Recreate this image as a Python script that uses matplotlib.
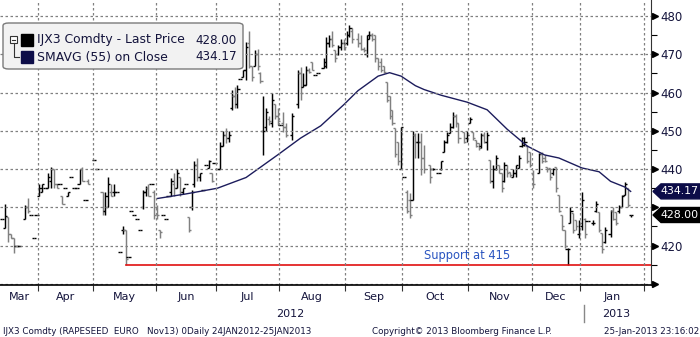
import numpy as np
import pandas as pd
import matplotlib
matplotlib.use('Agg')
from matplotlib import pyplot as plt
from matplotlib import transforms
from matplotlib.patches import FancyBboxPatch, Rectangle, Polygon
from matplotlib.lines import Line2D

# daily bars (open, high, low, close), one per trading session, None = no trade
bars_mar = [(427, 427, 427, 427), (424.6, 431, 424.5, 427.7), (427.5, 427.5, 421, 423), (423, 423, 422, 422),
            (422, 422, 418, 420), (420, 420, 420, 420), (420, 420, 420, 420), None,
            (427, 430.5, 427, 430), (430, 432.5, 428.5, 429), (428, 428, 428, 428), (422, 422, 422, 422),
            (428, 428, 428, 428)]
bars_apr = [(433, 436, 433, 435), (434, 436, 434, 436), (435, 435, 435, 435), (435, 439, 435, 438),
            (437, 440.5, 435, 440), (440, 440, 435, 436), (436, 436, 435, 435), (436, 436, 436, 436),
            (433, 433, 431, 431), (435, 435, 435, 435), (433, 434, 433, 434), (438, 438, 438, 438),
            (435, 435, 435, 435), (435, 435, 435, 435), (436, 440, 436, 440), (440, 440.5, 437, 437),
            (432, 432, 432, 432), (437, 437.5, 436, 436), None]
bars_may = [(442.4, 442.4, 442.4, 442.4), (440, 440, 440, 440), None, (434, 434, 428, 429),
            (429, 434, 428, 433), (430, 438, 430, 436), (434, 436, 433, 433), (434, 436, 433, 434),
            (434, 434, 434, 434), (418.4, 418.4, 418.4, 418.4), (424, 425, 423, 424), (424, 424, 415, 416.5),
            (417, 417, 417, 417), (429, 429, 429, 429), (428, 428, 428, 428), (427, 427, 427, 427),
            (424, 424, 424, 424), (430, 434.6, 429.5, 434), (434, 435.5, 433, 435), (435, 436, 433, 433),
            (436, 436, 436, 436), (434, 434.6, 427, 428)]
bars_jun = [(430, 430.6, 427, 428), (424, 424, 422, 423.6), (428, 428, 428, 428), (427, 427, 427, 427),
            (433, 433, 433, 433), (434, 437.7, 433, 437), (436, 439, 433, 435), (435, 440, 435, 439),
            (438, 438, 433, 434), (434, 435, 433.5, 435), (436, 436, 436, 436), (427.5, 427.5, 423.6, 424),
            (430, 434.6, 429.4, 434), (436, 442, 435.4, 441), (441, 443, 437, 438), (438, 439, 437, 439),
            (434.6, 434.6, 434.6, 434.6), (441, 441, 441, 441), (440.3, 442.4, 440.3, 442),
            (439, 439, 436.5, 437), (441.6, 441.6, 441.6, 441.6)]
bars_jul = [(440, 440, 440, 440), (440, 447, 440, 446), (446, 450, 446, 449), (449, 450.8, 446.8, 448),
            (448, 450, 447, 449), (456, 460.7, 455.5, 459), (459, 461.5, 456, 457), (457, 462, 456, 461),
            (463.5, 463.5, 463.5, 463.5), (464, 466, 464, 466), (466, 473.2, 463.3, 472), (473, 476, 466.4, 467),
            (467, 467, 463, 464), (467, 471, 467, 470), (470, 471.5, 466, 467), (465, 465.5, 462.5, 463),
            (450, 459, 443.7, 450), (451, 456, 450, 455), (453, 454, 451.5, 452.5), (452, 460, 451, 458),
            (457, 457, 453, 454), (454, 456, 451.5, 452.5)]
bars_aug = [(451.5, 451.5, 451.5, 451.5), (452, 455, 449.7, 451), (451, 452, 448.5, 449), None,
            (449, 454.7, 447.6, 454), None, (457, 466, 456, 465), (465, 466.7, 458, 460),
            (461.5, 465, 461.5, 462), (462, 467, 462, 466), (466, 466.5, 465, 465.5), (468, 468, 466, 466),
            (464.6, 464.6, 464.6, 464.6), (465, 465, 465, 465), None, (466.4, 469, 466.4, 468),
            (467, 474.5, 466.4, 473), (473, 475, 472, 474), (474, 476, 472, 472.5), (471, 471, 468, 469),
            (470, 472.4, 469.8, 472), (472, 474, 471, 473), (473, 474, 471, 472)]
bars_sep = [(473, 476, 472.4, 475), (475, 477.7, 474.5, 477), (476, 477, 473, 474), None,
            (474, 475.5, 472, 473), (473, 475, 471, 471.5), (471.5, 472, 470.6, 471), (470, 475, 469.3, 474),
            (475, 476, 474, 475), (475, 475.5, 473.5, 474), (475, 475, 468, 469), (469, 469, 466, 467),
            (468, 469, 465.4, 466), (467, 467, 465, 465.5), (462.8, 462.8, 457.5, 458), (459, 459, 453, 454),
            (455.5, 455.5, 451.5, 452), (450.8, 450.8, 443.2, 444), (447, 447, 441, 442), (440, 451, 440, 451)]
bars_oct = [(438, 438, 438, 438), (434, 434.6, 428.6, 429), (432, 433.8, 427.3, 428), (432, 450, 432, 449),
            (449, 449.5, 443, 447), (447, 449.5, 443, 447), (447, 449.5, 438.5, 443), (443, 446.3, 439, 440),
            None, (441, 441, 436.4, 438), (440, 440.3, 439.8, 440), None,
            (439, 439, 439, 439), (440, 442, 439.8, 442), (444.5, 447.6, 444.5, 447), (447, 449.7, 446.8, 449),
            (449.5, 452, 449.5, 451), (451, 455, 450.8, 454), (454, 454.5, 451, 452), (452, 452, 446.8, 448),
            None, (449.7, 449.7, 446.8, 447), (448, 450, 447, 449)]
bars_nov = [(452, 453.5, 452, 453), (449.7, 449.7, 447.6, 448), (447.6, 447.6, 445.8, 446),
            (446.8, 446.8, 445, 445.5), (446, 449.5, 445.5, 449), (449, 449.7, 446.8, 447), (447, 449.7, 445, 449),
            (442.4, 442.4, 436.4, 437), (437, 441, 435.1, 440), (440, 443.7, 439.8, 443), (441, 441, 439, 440),
            (439, 439, 434, 435), (437, 441.9, 436.7, 441), (440, 441, 438, 439), (439.3, 439.3, 438, 438.5),
            (438, 440, 438, 439), (439, 441, 438, 441), (440.3, 443.7, 440.3, 443), (446, 448.4, 445.8, 448),
            (446.3, 448.4, 446, 447), (446, 446.3, 441.6, 442), (444.5, 444.5, 440.6, 441)]
bars_dec = [(439, 439.8, 435.1, 436), None, (439, 444.2, 439, 444), (444, 444.5, 441.6, 442),
            (443, 443.7, 441.9, 442), (440.6, 440.6, 439.3, 440), (440.3, 440.3, 437.2, 438),
            (439, 440.3, 438.5, 440), (440.6, 440.6, 434, 435), (433.3, 433.3, 428.8, 429),
            (428, 428, 424, 425), (424, 424, 419.4, 420), (419, 419.4, 415, 419), (426, 430, 426, 429),
            (428.6, 428.6, 423.3, 424), (426.7, 426.7, 424.1, 425), (423, 426.7, 422, 426)]
bars_jan = [(425, 434, 424, 432), (427, 427.3, 422, 423), (426.5, 426.5, 426.5, 426.5), None,
            (426, 426.7, 425.3, 426), (429, 431.6, 428.8, 431), (428.8, 428.8, 423.6, 424),
            (423.3, 423.3, 418.1, 419), (421, 424.9, 420.7, 424), None, (423, 429.4, 422.3, 429),
            (429, 430, 426.7, 427), (428.8, 428.8, 425.4, 426), (429, 430.6, 428.6, 430),
            (430, 433.3, 430, 433), (433.3, 436.7, 433.3, 436), (435, 435, 430, 430.5), (428, 428, 427.5, 428)]

# 55-day simple moving average
sma_dates = ['2012-06-01', '2012-06-15', '2012-07-02', '2012-07-16', '2012-07-31', '2012-08-10',
             '2012-08-21', '2012-08-31', '2012-09-07', '2012-09-18', '2012-09-24', '2012-09-28',
             '2012-10-05', '2012-10-10', '2012-10-18', '2012-10-31', '2012-11-09', '2012-11-20',
             '2012-11-29', '2012-12-07', '2012-12-14', '2013-01-02', '2013-01-10', '2013-01-16',
             '2013-01-23', '2013-01-25']
sma_values = [432.3, 433.5, 435.0, 437.8, 443.7, 448.1, 451.3, 456.8, 460.5, 464.3, 465.2, 464.3,
              461.8, 460.8, 459.3, 457.5, 455.5, 450.4, 446.0, 443.7, 442.9, 440.3, 439.3, 436.8,
              435.3, 434.17]

support_level = 415
support_from = '2012-05-17'
last_price = 428.00
last_sma = 434.17

holidays = ['2012-04-06', '2012-04-09', '2012-05-01', '2012-12-24', '2012-12-25',
            '2012-12-26', '2012-12-31', '2013-01-01']
month_names = ['Mar', 'Apr', 'May', 'Jun', 'Jul', 'Aug', 'Sep', 'Oct', 'Nov', 'Dec', 'Jan']

# trading calendar -> session index used as x
sessions = pd.bdate_range('2012-03-14', '2013-02-08').difference(pd.to_datetime(holidays))
pos = {d: i for i, d in enumerate(sessions)}
bars = bars_mar + bars_apr + bars_may + bars_jun + bars_jul + bars_aug + bars_sep + bars_oct + bars_nov + bars_dec + bars_jan

TXT = '#14143c'
NAVY = '#0c0c48'
W, H = 700, 337

fig = plt.figure(figsize=(W / 100, H / 100), dpi=100)
ax = fig.add_axes([0, 1 - 285 / H, 651 / W, 285 / H])

# OHLC bars
for i, b in enumerate(bars):
    if b is None:
        continue
    o, h, l, c = b
    col = 'black' if c >= o else '#808080'
    ax.vlines(i, l, h, color=col, lw=1.05)
    ax.hlines(o, i - 0.75, i, color=col, lw=1.0)
    ax.hlines(c, i, i + 0.75, color=col, lw=1.0)

# moving average
sma_x = [pos[pd.Timestamp(d)] for d in sma_dates]
ax.plot(sma_x, sma_values, color='#1c1c5c', lw=1.0)

# support line
x_sup = pos[pd.Timestamp(support_from)]
x_right = 651 / 2.87 - 0.74
ax.plot([x_sup, x_right], [support_level, support_level], color='#e01010', lw=1.2, clip_on=False)
ax.text(147, support_level + 0.6, 'Support at 415', color='#2a55c0', fontsize=8.3, va='bottom')

# axes limits and grid
ax.set_xlim(-0.74, x_right)
ax.set_ylim(409.7, 484.2)

month_starts = []
m = pd.Timestamp('2012-04-01')
while m <= pd.Timestamp('2013-02-01'):
    first = sessions[sessions >= m][0]
    month_starts.append(pos[first] - 0.5)
    m = m + pd.DateOffset(months=1)

ax.set_xticks(month_starts)
ax.set_xticklabels([])
ax.tick_params(axis='x', direction='out', length=4, width=0.8, color='#333333')
for xv in month_starts:
    ax.axvline(xv, color='#808080', lw=0.9, ls=(0, (2, 2)))

# 410 sits on the frame and 430 is hidden under the value tags
yt = np.arange(410, 481, 10)
ax.yaxis.tick_right()
ax.set_yticks(yt)
ax.set_yticklabels(['' if v in (410, 430) else str(v) for v in yt], color=TXT, fontsize=8.5)
ax.set_yticks(np.arange(415, 484, 10), minor=True)
ax.tick_params(axis='y', which='major', length=0, pad=6.5)
ax.tick_params(axis='y', which='minor', length=4, width=0.8, direction='out')
for yv in yt:
    ax.axhline(yv, color='#808080', lw=0.9, ls=(0, (2, 2)))

for s in ['left', 'top']:
    ax.spines[s].set_visible(False)
ax.spines['right'].set_color('#333333')
ax.spines['bottom'].set_color('black')
ax.spines['bottom'].set_linewidth(1.2)

# arrow style major ticks on the price axis
ytr = transforms.blended_transform_factory(ax.transAxes, ax.transData)
ax.plot(np.full(len(yt), 1.0), yt, ls='none', marker='>', ms=5, color='black',
        transform=transforms.offset_copy(ytr, fig=fig, x=4, units='dots'), clip_on=False)
ax.plot([1.0], [409.7], ls='none', marker='>', ms=6, color='black',
        transform=transforms.offset_copy(ax.transAxes, fig=fig, x=3, units='dots'), clip_on=False)

# last value tags (pixel-sized pentagons on the price axis)
y_sma = ax.transData.transform((0, last_sma))[1]
y_last = min(ax.transData.transform((0, last_price))[1], y_sma - 15)
for yc, val, col in [(y_sma, last_sma, NAVY), (y_last, last_price, 'black')]:
    pts = [(653, yc), (661, yc + 7.5), (700, yc + 7.5), (700, yc - 7.5), (661, yc - 7.5)]
    fig.add_artist(Polygon(pts, closed=True, fc=col, ec=col, transform=transforms.IdentityTransform()))
    fig.text(680 / W, yc / H, '%.2f' % val, color='white', fontsize=7.9, ha='center', va='center')

# month and year labels under the axis
xtr = transforms.blended_transform_factory(ax.transData, fig.transFigure)
bounds = [-0.74] + month_starts
for k, name in enumerate(month_names):
    ax.text((bounds[k] + bounds[k + 1]) / 2, 1 - 297 / H, name, transform=xtr,
            ha='center', va='center', fontsize=8, color=TXT)
jan = month_starts[-2]
ax.text((-0.74 + jan) / 2, 1 - 314 / H, '2012', transform=xtr, ha='center', va='center', fontsize=8, color=TXT)
ax.text((jan + x_right) / 2, 1 - 314 / H, '2013', transform=xtr, ha='center', va='center', fontsize=8, color=TXT)
fig.add_artist(Line2D([jan + 1.4, jan + 1.4], [1 - 322 / H, 1 - 305 / H], transform=xtr, color='#888888', lw=1))

# footer
fig.text(3 / W, 1 - 331 / H, 'IJX3 Comdty (RAPESEED  EURO   Nov13) 0Daily 24JAN2012-25JAN2013',
         fontsize=6.3, color=TXT, va='center')
fig.text(372 / W, 1 - 331 / H, 'Copyright\u00a9 2013 Bloomberg Finance L.P.', fontsize=6.3, color=TXT, va='center')
fig.text(699 / W, 1 - 331 / H, '25-Jan-2013 23:16:02', fontsize=6.3, color=TXT, va='center', ha='right')

# legend box
fig.add_artist(FancyBboxPatch((3 / W, 1 - 69 / H), 240 / W, 46 / H,
                              boxstyle='round,pad=0,rounding_size=0.008', fc='#f2f2f2', ec='#7a7a7a', lw=1,
                              transform=fig.transFigure))
fig.add_artist(Rectangle((10 / W, 1 - 43 / H), 7 / W, 7 / H, fc='white', ec='#333333', lw=0.8,
                         transform=fig.transFigure))
fig.add_artist(Line2D([11.5 / W, 15.5 / W], [1 - 39.5 / H, 1 - 39.5 / H], color='#333333', lw=0.8,
                      transform=fig.transFigure))
fig.add_artist(Line2D([13.5 / W, 13.5 / W, 19 / W], [1 - 43 / H, 1 - 57 / H, 1 - 57 / H], color='#333333',
                      lw=0.8, transform=fig.transFigure))
legend_rows = [('IJX3 Comdty - Last Price', '%.2f' % last_price, 'black', 40),
               ('SMAVG (55) on Close', '%.2f' % last_sma, NAVY, 57)]
for label, val, col, yp in legend_rows:
    fig.add_artist(Rectangle((21 / W, 1 - (yp + 6) / H), 12 / W, 12 / H, fc=col, ec=col,
                             transform=fig.transFigure))
    fig.text(37 / W, 1 - yp / H, label, fontsize=8.9, color=TXT, va='center')
    fig.text(237 / W, 1 - yp / H, val, fontsize=8.6, color=TXT, va='center', ha='right')

fig.savefig('out.png', dpi=100)
